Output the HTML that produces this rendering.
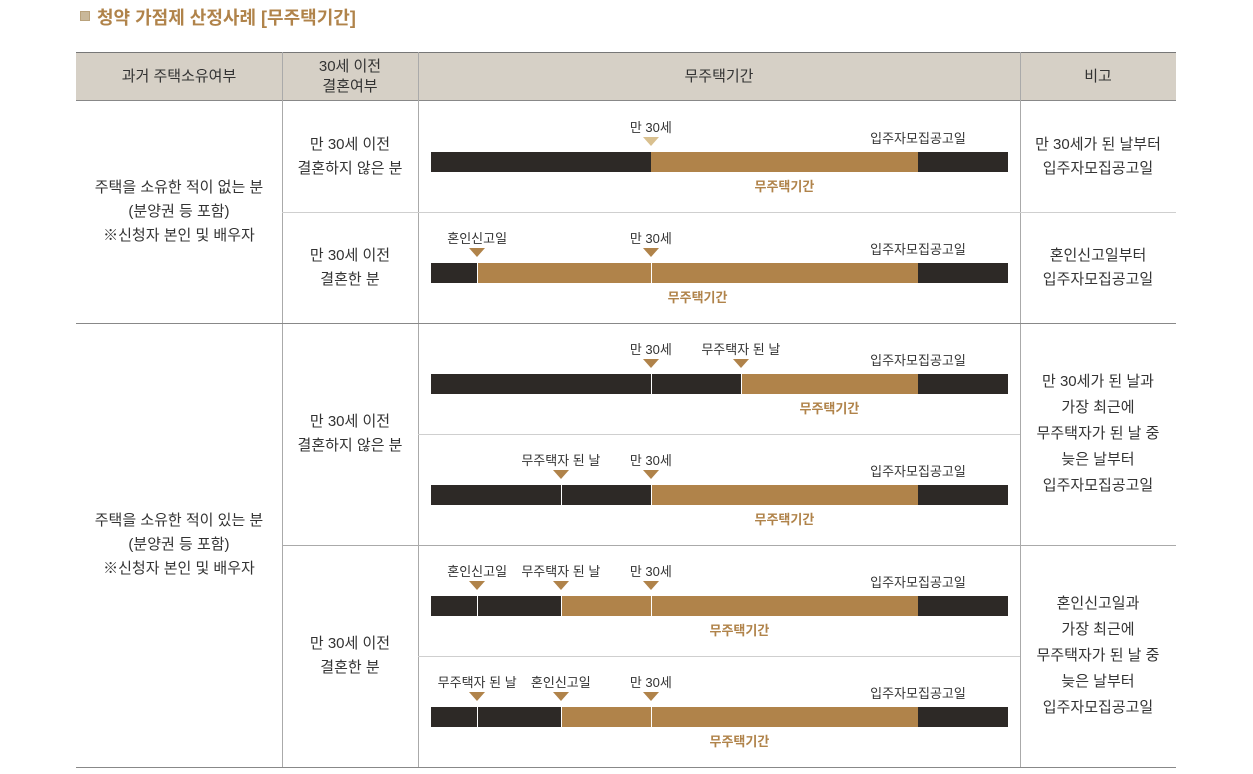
<!DOCTYPE html>
<html><head><meta charset="utf-8">
<style>
body{margin:0;width:1253px;height:774px;background:#fff;position:relative;overflow:hidden;font-family:"Liberation Sans","Noto Sans CJK KR",sans-serif;color:#333}
.a{position:absolute}
.cell{position:absolute;display:flex;align-items:center;justify-content:center;text-align:center;font-size:15px;line-height:24px;color:#333}
.hl{position:absolute;height:1px;background:#cfcfcf}
.vl{position:absolute;width:1px;background:#cfcfcf}
.lbl{position:absolute;font-size:13px;color:#333;white-space:nowrap;transform:translateX(-50%)}
</style></head><body>
<div class="a" style="left:80px;top:11px;width:10px;height:10px;background:#c9b89a;border:1px solid #b9a27c;box-sizing:border-box"></div>
<div class="a" style="left:97px;top:4px;font-size:18px;font-weight:bold;color:#b0834a">청약 가점제 산정사례 [무주택기간]</div>

<div class="a" style="left:76px;top:52px;width:1100px;height:49px;background:#d6d0c6;border-top:1px solid #777;border-bottom:1px solid #888;box-sizing:border-box"></div>
<div class="cell" style="left:76px;top:52px;width:206px;height:49px">과거 주택소유여부</div>
<div class="cell" style="left:282px;top:52px;width:136px;height:49px;line-height:20px">30세 이전<br>결혼여부</div>
<div class="cell" style="left:418px;top:52px;width:602px;height:49px">무주택기간</div>
<div class="cell" style="left:1020px;top:52px;width:156px;height:49px">비고</div>

<div class="vl" style="left:282px;top:52px;height:715px;background:#aaa"></div>
<div class="vl" style="left:418px;top:52px;height:715px;background:#aaa"></div>
<div class="vl" style="left:1020px;top:52px;height:715px;background:#aaa"></div>
<div class="hl" style="left:282px;top:212px;width:894px"></div>
<div class="hl" style="left:76px;top:323px;width:1100px;background:#888"></div>
<div class="hl" style="left:418px;top:434px;width:602px"></div>
<div class="hl" style="left:282px;top:545px;width:894px;background:#aaa"></div>
<div class="hl" style="left:418px;top:656px;width:602px"></div>
<div class="hl" style="left:76px;top:767px;width:1100px;background:#888"></div>

<div class="cell" style="left:76px;top:101px;width:206px;height:222px">주택을 소유한 적이 없는 분<br>(분양권 등 포함)<br>※신청자 본인 및 배우자</div>
<div class="cell" style="left:76px;top:323px;width:206px;height:444px">주택을 소유한 적이 있는 분<br>(분양권 등 포함)<br>※신청자 본인 및 배우자</div>
<div class="cell" style="left:282px;top:101px;width:136px;height:111px">만 30세 이전<br>결혼하지 않은 분</div>
<div class="cell" style="left:282px;top:212px;width:136px;height:111px">만 30세 이전<br>결혼한 분</div>
<div class="cell" style="left:282px;top:323px;width:136px;height:222px">만 30세 이전<br>결혼하지 않은 분</div>
<div class="cell" style="left:282px;top:545px;width:136px;height:222px">만 30세 이전<br>결혼한 분</div>
<div class="cell" style="left:1020px;top:101px;width:156px;height:111px">만 30세가 된 날부터<br>입주자모집공고일</div>
<div class="cell" style="left:1020px;top:212px;width:156px;height:111px">혼인신고일부터<br>입주자모집공고일</div>
<div class="cell" style="left:1020px;top:323px;width:156px;height:222px;line-height:26px">만 30세가 된 날과<br>가장 최근에<br>무주택자가 된 날 중<br>늦은 날부터<br>입주자모집공고일</div>
<div class="cell" style="left:1020px;top:545px;width:156px;height:222px;line-height:26px">혼인신고일과<br>가장 최근에<br>무주택자가 된 날 중<br>늦은 날부터<br>입주자모집공고일</div>

<div id="bars"></div>
<script>
// timeline scale 0..100 along bar
const rowTops=[101,212,323,434,545,656];
const startVals=[38.1,8,53.7,38.1,22.5,22.5];
const endVal=84.4;
const markerNames=[["만 30세"],["혼인신고일","만 30세"],["만 30세","무주택자 된 날"],["무주택자 된 날","만 30세"],["혼인신고일","무주택자 된 날","만 30세"],["무주택자 된 날","혼인신고일","만 30세"]];
const markerVals=[[38.1],[8,38.1],[38.1,53.7],[22.5,38.1],[8,22.5,38.1],[8,22.5,38.1]];
const X0=431,X1=1008;
function sx(v){return X0+(X1-X0)*v/100;}
const root=document.getElementById('bars');
function div(css){const d=document.createElement('div');d.style.cssText='position:absolute;'+css;root.appendChild(d);return d;}
rowTops.forEach((t,i)=>{
  const by=t+51;
  const bar=div(`left:${X0}px;top:${by}px;width:${X1-X0}px;height:20px;background:#2d2926`);
  
  
  const s=sx(startVals[i]),e=sx(endVal);
  const seg=div(`left:${s}px;top:${by}px;width:${e-s}px;height:20px;background:#b0834a`);
  
  
  const pl=div(`left:${(s+e)/2}px;top:${by+24}px;font-size:13px;font-weight:bold;color:#b0834a;white-space:nowrap;transform:translateX(-50%)`);
  pl.textContent='무주택기간';
  
  
  const al=div(`left:${e}px;top:${by-24}px;font-size:13px;color:#333;white-space:nowrap;transform:translateX(-50%)`);
  al.textContent='입주자모집공고일';
  
  
  markerVals[i].forEach((v,j)=>{
    const x=sx(v);
    const col=(i===0)?'#d9c08f':'#b0834a';
    const tri=div(`left:${x-8}px;top:${t+36}px;width:0;height:0;border-left:8px solid transparent;border-right:8px solid transparent;border-top:9px solid ${col}`);
    
    
    const ml=div(`left:${x}px;top:${t+16}px;font-size:13px;color:#333;white-space:nowrap;transform:translateX(-50%)`);
    ml.textContent=markerNames[i][j];
    
    
    if(v>startVals[i]-0.01 && i!==0 || (v>0 && v<endVal && v!==startVals[i])){
      const ln=div(`left:${x}px;top:${by}px;width:1px;height:20px;background:#fff`);
      
      
    }
  });
});
</script>
</body></html>
